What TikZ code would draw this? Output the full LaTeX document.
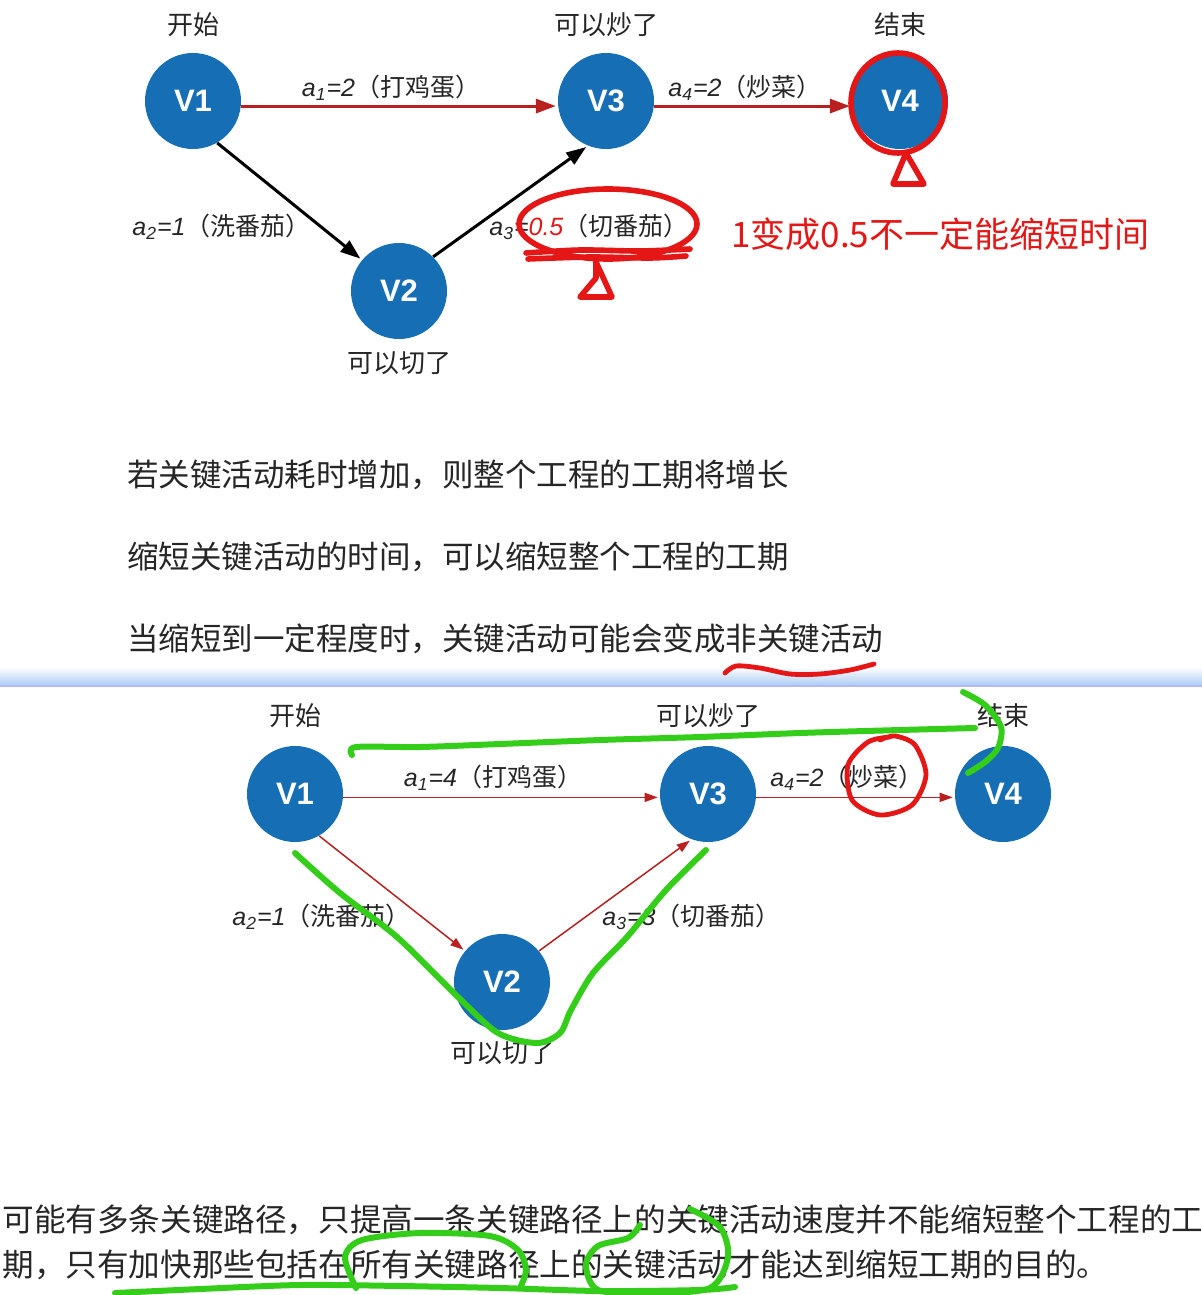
\documentclass[tikz,border=0pt]{standalone}
\usepackage{fontspec}
\setmainfont{Noto Sans CJK SC}
\newfontfamily\labfont{Liberation Sans}
\usetikzlibrary{arrows.meta}
\definecolor{vblue}{RGB}{22,110,180}
\definecolor{edgered}{RGB}{185,32,32}
\definecolor{inkred}{RGB}{228,22,22}
\definecolor{inkgreen}{RGB}{52,206,26}
\definecolor{sepblue}{RGB}{170,202,242}
\newcommand{\actlabel}[2]{{\labfont\itshape a\textsubscript{#1}=#2}}

\begin{document}
\begin{tikzpicture}[x=0.5pt, y=-0.5pt,
  vertex/.style={circle, fill=vblue, minimum size=48pt, inner sep=0pt, text=white, font=\labfont\bfseries\fontsize{15.5}{16}\selectfont},
  tag/.style={text=black!85, font=\fontsize{13}{14}\selectfont},
  act/.style={text=black!85, font=\fontsize{12.5}{14}\selectfont, inner sep=1pt},
  bodyline/.style={text=black!85, font=\fontsize{15.75}{18}\selectfont, anchor=west, inner sep=0pt},
  noteline/.style={text=black!85, font=\fontsize{15.8}{18}\selectfont, anchor=west, inner sep=0pt},
  heavyedge/.style={line width=1.5pt, -{Triangle[length=10pt, width=7pt]}, shorten >=1pt},
  lightedge/.style={line width=0.75pt, edgered, -{Triangle[length=6.5pt, width=4.5pt]}, shorten >=1pt},
  redink/.style={inkred, line width=2.8pt, line cap=round, line join=round},
  greenink/.style={inkgreen, line width=3pt, line cap=round, line join=round}]
\useasboundingbox (0,0) rectangle (1202,1295);
\fill[white] (0,0) rectangle (1202,1295);
\shade[top color=white, bottom color=sepblue] (0,667) rectangle (1202,686);
\draw[sepblue!70!blue!60, line width=0.6pt] (0,686) -- (1202,686);

\node[vertex] (v1) at (193,101) {V1};
\node[vertex] (v2) at (399,291) {V2};
\node[vertex] (v3) at (606,101) {V3};
\node[vertex] (v4) at (900,101) {V4};
\node[tag] (start) at (193,25) {开始};
\node[tag] (fry) at (606,25) {可以炒了};
\node[tag] (finish) at (900,25) {结束};
\node[tag] (cut) at (399,363) {可以切了};
\draw[heavyedge, edgered] (v1.-6) -- (v3.186);
\draw[heavyedge, edgered] (v3.-6) -- (v4.186);
\draw[heavyedge, black] (v1.-60) -- (v2.140);
\draw[heavyedge, black] (v2.45) -- (v3.-112);
\node[act] (a1) at (391,88) {\actlabel{1}{2}（打鸡蛋）};
\node[act] (a4) at (745,88) {\actlabel{4}{2}（炒菜）};
\node[act, anchor=east] (a2) at (313,227) {\actlabel{2}{1}（洗番茄）};
\node[act, anchor=west] (a3) at (487,227) {{\labfont\itshape a\textsubscript{3}=\textcolor{inkred}{0.5}}（切番茄）};
\node[anchor=west, inner sep=0pt, text=inkred, font=\fontsize{17.5}{20}\selectfont] (remark) at (731,234) {1变成0.5不一定能缩短时间};

\draw[redink] (608,224) ellipse [x radius=89, y radius=35];
\draw[redink] plot[smooth] coordinates {(526,253) (580,250) (640,251) (690,249)};
\draw[redink] plot[smooth] coordinates {(528,259) (590,257) (650,258) (686,256)};
\draw[redink] (596,262) -- (596,278) -- (580,297) -- (612,297) -- cycle;
\draw[redink] (898,103) ellipse [x radius=47, y radius=50];
\draw[redink] (906,153) -- (893,184) -- (924,184) -- cycle;

\node[bodyline] (rule1) at (127,475) {若关键活动耗时增加，则整个工程的工期将增长};
\node[bodyline] (rule2) at (127,557) {缩短关键活动的时间，可以缩短整个工程的工期};
\node[bodyline] (rule3) at (127,639) {当缩短到一定程度时，关键活动可能会变成非关键活动};
\draw[redink, line width=2.4pt] plot[smooth] coordinates {(725,673) (736,666) (760,668) (790,674) (820,674) (850,670) (874,664)};

\node[vertex] (w1) at (295,794) {V1};
\node[vertex] (w2) at (502,982) {V2};
\node[vertex] (w3) at (708,794) {V3};
\node[vertex] (w4) at (1003,794) {V4};
\node[tag] (start2) at (295,716) {开始};
\node[tag] (fry2) at (708,716) {可以炒了};
\node[tag] (finish2) at (1003,716) {结束};
\node[tag] (cut2) at (502,1053) {可以切了};
\draw[lightedge] (w1.-4) -- (w3.184);
\draw[lightedge] (w3.-4) -- (w4.184);
\draw[lightedge] (w1.-60) -- (w2.140);
\draw[lightedge] (w2.40) -- (w3.-110);
\node[act] (b1) at (493,778) {\actlabel{1}{4}（打鸡蛋）};
\node[act] (b4) at (847,778) {\actlabel{4}{2}（炒菜）};
\node[act, anchor=east] (b2) at (413,917) {\actlabel{2}{1}（洗番茄）};
\node[act, anchor=west] (b3) at (600,917) {\actlabel{3}{3}（切番茄）};

\draw[redink, line width=2.4pt] plot[smooth] coordinates {(890,737) (868,742) (848,765) (852,800) (880,815) (912,805) (926,775) (915,745) (895,736) (880,740)};
\draw[greenink] plot[smooth] coordinates {(352,755) (356,747) (420,747) (500,744) (600,740) (700,737) (800,733) (900,730) (975,728)};
\draw[greenink] plot[smooth] coordinates {(963,692) (985,705) (1001,727) (998,748) (985,762) (968,773)};
\draw[greenink] plot[smooth] coordinates {(295,853) (340,893) (397,937) (458,997) (498,1033) (537,1043) (560,1033) (571,1010) (593,973) (627,937) (666,890) (706,850)};

\node[noteline] (note1) at (2,1220) {可能有多条关键路径，只提高一条关键路径上的关键活动速度并不能缩短整个工程的工};
\node[noteline] (note2) at (2,1265) {期，只有加快那些包括在所有关键路径上的关键活动才能达到缩短工期的目的。};
\draw[greenink] plot[smooth] coordinates {(115,1293) (200,1289) (300,1285) (400,1286) (500,1288) (600,1291) (700,1290) (735,1287)};
\draw[greenink] plot[smooth] coordinates {(356,1288) (345,1257) (362,1240) (420,1233) (490,1236) (518,1250) (526,1270) (520,1288)};
\draw[greenink] plot[smooth] coordinates {(640,1225) (628,1238) (598,1246) (586,1265) (598,1290) (650,1293) (710,1288) (728,1257) (720,1227) (690,1209)};
\end{tikzpicture}
\end{document}
